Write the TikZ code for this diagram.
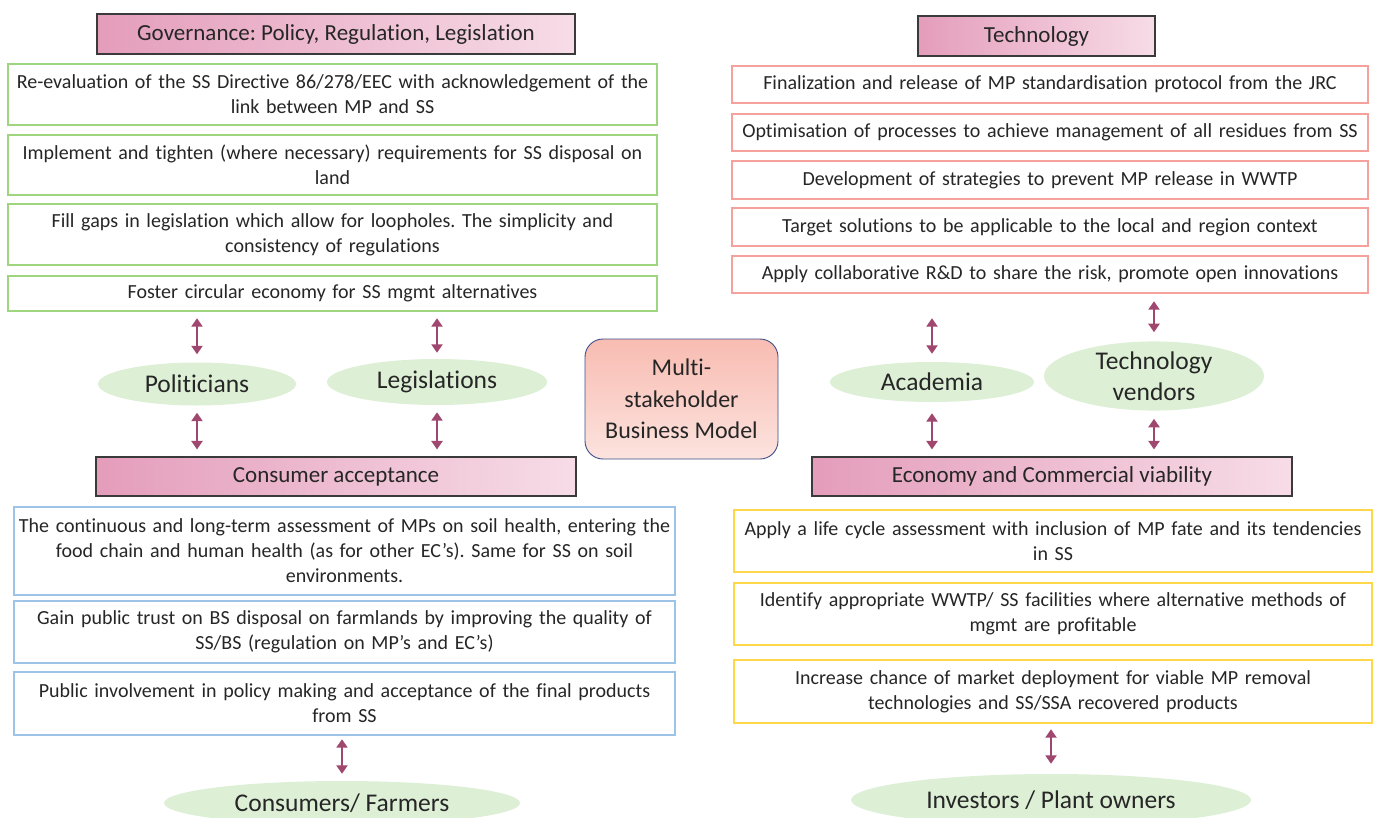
\documentclass[tikz,border=0pt]{standalone}
\usepackage{fontspec}
\setmainfont{Carlito}[Ligatures={NoCommon}]
\usetikzlibrary{arrows.meta,shapes.geometric}
\frenchspacing
\definecolor{txt}{HTML}{262626}
\definecolor{gborder}{HTML}{9DD67E}
\definecolor{rborder}{HTML}{F6A29C}
\definecolor{bborder}{HTML}{9DC3E6}
\definecolor{yborder}{HTML}{FFD84A}
\definecolor{pinkL}{HTML}{E49DBB}
\definecolor{pinkR}{HTML}{F7DCE7}
\definecolor{headborder}{HTML}{3A3A3A}
\definecolor{egreen}{HTML}{DDEFD5}
\definecolor{arrowc}{HTML}{A0476F}
\definecolor{multiT}{HTML}{F8BCB2}
\definecolor{multiB}{HTML}{FCE3DE}
\definecolor{multiD}{HTML}{3E4F8A}
\begin{document}
\begin{tikzpicture}[x=1pt,y=-1pt,
  every node/.style={text=txt, align=center, inner sep=0pt},
  item/.style={draw, line width=2.4pt, fill=white, font=\fontsize{20}{25}\selectfont},
  gitem/.style={item, draw=gborder, minimum width=649pt, text width=645pt},
  ritem/.style={item, draw=rborder, minimum width=636pt, text width=632pt},
  bitem/.style={item, draw=bborder, minimum width=661pt, text width=657pt},
  yitem/.style={item, draw=yborder, minimum width=638pt, text width=634pt},
  head/.style={draw=headborder, line width=1.1pt, left color=pinkL, right color=pinkR, font=\fontsize{23}{27}\selectfont},
  actor/.style={ellipse, fill=egreen, font=\fontsize{25.5}{31}\selectfont},
  link/.style={draw=arrowc, line width=2.8pt, {Triangle[length=8.5pt,width=11pt]}-{Triangle[length=8.5pt,width=11pt]}}
]
\useasboundingbox (0,0) rectangle (1375,817);
\begin{scope}
\clip (0,0) rectangle (1375,817);
% Governance
\node[head, minimum width=478pt, minimum height=40pt] (gh) at (336,34) {Governance: Policy, Regulation, Legislation};
\node[gitem, minimum height=61pt] (g1) at (332.5,94.5) {Re-evaluation of the SS Directive 86/278/EEC with acknowledgement of the\\ link between MP and SS};
\node[gitem, minimum height=60pt] (g2) at (332.5,165) {Implement and tighten (where necessary) requirements for SS disposal on\\ land};
\node[gitem, minimum height=61pt] (g3) at (332.5,234.5) {Fill gaps in legislation which allow for loopholes. The simplicity and\\ consistency of regulations};
\node[gitem, minimum height=35pt] (g4) at (332.5,293.5) {Foster circular economy for SS mgmt alternatives};
% Technology
\node[head, minimum width=237pt, minimum height=40pt] (th) at (1036.5,36) {Technology};
\node[ritem, minimum height=37pt] (r1) at (1050,84.5) {Finalization and release of MP standardisation protocol from the JRC};
\node[ritem, minimum height=37pt] (r2) at (1050,132.5) {Optimisation of processes to achieve management of all residues from SS};
\node[ritem, minimum height=38pt] (r3) at (1050,180) {Development of strategies to prevent MP release in WWTP};
\node[ritem, minimum height=38pt] (r4) at (1050,227) {Target solutions to be applicable to the local and region context};
\node[ritem, minimum height=37pt] (r5) at (1050,274.5) {Apply collaborative R\&D to share the risk, promote open innovations};
% Actors (middle)
\node[actor, minimum width=198pt, minimum height=43pt] (pol) at (197,384) {Politicians};
\node[actor, minimum width=220pt, minimum height=46pt] (leg) at (437,382) {Legislations};
\node[actor, minimum width=204pt, minimum height=40pt] (aca) at (932,382) {Academia};
\node[actor, minimum width=220pt, minimum height=58pt] (ven) at (1154,376) {Technology\\ vendors};
% Centre
\node[draw=multiD, line width=0.9pt, rounded corners=18pt, top color=multiT, bottom color=multiB,
      minimum width=193pt, minimum height=120pt, font=\fontsize{24}{31.5}\selectfont] (mid) at (681.5,399) {Multi-\\ stakeholder\\ Business Model};
% Consumer acceptance
\node[head, minimum width=480pt, minimum height=39pt] (ch) at (336,476.5) {Consumer acceptance};
\node[bitem, minimum height=88pt] (b1) at (344.5,551) {The continuous and long-term assessment of MPs on soil health, entering the\\ food chain and human health (as for other EC’s). Same for SS on soil\\ environments.};
\node[bitem, minimum height=62pt] (b2) at (344.5,632) {Gain public trust on BS disposal on farmlands by improving the quality of\\ SS/BS (regulation on MP’s and EC’s)};
\node[bitem, minimum height=63pt] (b3) at (344.5,703.5) {Public involvement in policy making and acceptance of the final products\\ from SS};
\node[actor, minimum width=356pt, minimum height=44pt] (con) at (342,803) {Consumers/ Farmers};
% Economy
\node[head, minimum width=480pt, minimum height=39pt] (eh) at (1052,476.5) {Economy and Commercial viability};
\node[yitem, minimum height=62pt] (y1) at (1053,541) {Apply a life cycle assessment with inclusion of MP fate and its tendencies\\ in SS};
\node[yitem, minimum height=62pt] (y2) at (1053,614) {Identify appropriate WWTP/ SS facilities where alternative methods of\\ mgmt are profitable};
\node[yitem, minimum height=63pt] (y3) at (1053,691.5) {Increase chance of market deployment for viable MP removal\\ technologies and SS/SSA recovered products};
\node[actor, minimum width=400pt, minimum height=52pt] (inv) at (1051,800) {Investors / Plant owners};
\end{scope}
% Connectors
\draw[link, shorten <=6pt, shorten >=8pt] (pol.north |- g4.south) -- (pol.north);
\draw[link, shorten <=6pt, shorten >=6pt] (leg.north |- g4.south) -- (leg.north);
\draw[link, shorten <=7pt, shorten >=7pt] (pol.south) -- (pol.south |- ch.north);
\draw[link, shorten <=7pt, shorten >=7pt] (leg.south) -- (leg.south |- ch.north);
\draw[link, shorten <=24pt, shorten >=8pt] (aca.north |- r5.south) -- (aca.north);
\draw[link, shorten <=7pt, shorten >=9pt] (ven.north |- r5.south) -- (ven.north);
\draw[link, shorten <=11pt, shorten >=7pt] (aca.south) -- (aca.south |- eh.north);
\draw[link, shorten <=8pt, shorten >=7pt] (ven.south) -- (ven.south |- eh.north);
\draw[link, shorten <=3pt, shorten >=7pt] (con.north |- b3.south) -- (con.north);
\draw[link, shorten <=5pt, shorten >=10pt] (inv.north |- y3.south) -- (inv.north);
\end{tikzpicture}
\end{document}
